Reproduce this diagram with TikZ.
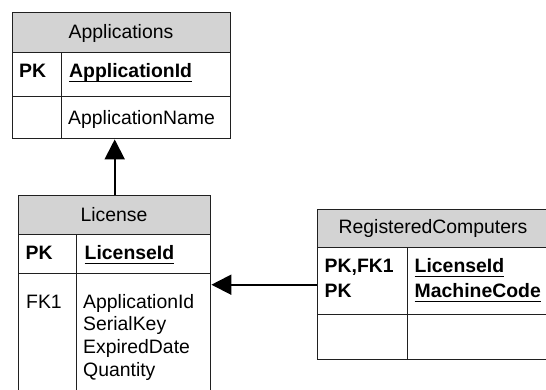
\documentclass[tikz,border=0pt]{standalone}
\usepackage{fontspec}
\setmainfont{Liberation Sans}
\usetikzlibrary{arrows.meta}
\definecolor{hdrgray}{HTML}{D3D3D3}
\definecolor{edge}{HTML}{202020}
\newlength\keyw
% bold key field with a flat underline just under the baseline
\newcommand\keyfield[1]{\settowidth\keyw{\textbf{#1}}\textbf{#1}\hspace{-\keyw}\rule[-5.3pt]{\keyw}{1.6pt}}
\begin{document}
\begin{tikzpicture}[x=1pt,y=-1pt,
  cell/.style={draw=edge, line width=1.4pt, anchor=north west, inner sep=0pt},
  head/.style={cell, fill=hdrgray},
  txt/.style={inner sep=0pt, anchor=base west, font=\fontsize{19.4}{22}\selectfont},
  ctxt/.style={txt, anchor=base},
  conn/.style={draw=black, line width=2pt, -{Triangle[length=20pt,width=20pt]}}]
\clip (0,0) rectangle (546,389);

% ---- Applications ----
\node[head, minimum width=218pt, minimum height=40pt] (appH) at (12,12) {};
\node[cell, minimum width=49pt, minimum height=44pt] (appPKk) at (12,52) {};
\node[cell, minimum width=169pt, minimum height=44pt] (appPKf) at (61,52) {};
\node[cell, minimum width=49pt, minimum height=42pt] (appAk) at (12,96) {};
\node[cell, minimum width=169pt, minimum height=42pt] (appAf) at (61,96) {};
\node[ctxt] (appT) at (121,38.5) {Applications};
\node[txt] (appK1) at (19,77) {\textbf{PK}};
\node[txt] (appF1) at (69,77) {\keyfield{ApplicationId}};
\node[txt] (appF2) at (68,124) {ApplicationName};

% ---- License ----
\node[head, minimum width=192pt, minimum height=39pt] (licH) at (18,195) {};
\node[cell, minimum width=58pt, minimum height=39pt] (licPKk) at (18,234) {};
\node[cell, minimum width=134pt, minimum height=39pt] (licPKf) at (76,234) {};
\node[cell, minimum width=58pt, minimum height=140pt] (licAk) at (18,273) {};
\node[cell, minimum width=134pt, minimum height=140pt] (licAf) at (76,273) {};
\node[ctxt] (licT) at (114,221) {License};
\node[txt] (licK1) at (25.5,259) {\textbf{PK}};
\node[txt] (licF1) at (84.5,259) {\keyfield{LicenseId}};
\node[txt] (licK2) at (26,308) {FK1};
\node[txt] (licF2) at (83,308) {ApplicationId};
\node[txt] (licF3) at (83,330.8) {SerialKey};
\node[txt] (licF4) at (83,353.6) {ExpiredDate};
\node[txt] (licF5) at (83,376.4) {Quantity};

% ---- RegisteredComputers ----
\node[head, minimum width=232pt, minimum height=38pt] (rcH) at (317,209) {};
\node[cell, minimum width=90pt, minimum height=67pt] (rcPKk) at (317,247) {};
\node[cell, minimum width=142pt, minimum height=67pt] (rcPKf) at (407,247) {};
\node[cell, minimum width=90pt, minimum height=45pt] (rcAk) at (317,314) {};
\node[cell, minimum width=142pt, minimum height=45pt] (rcAf) at (407,314) {};
\node[ctxt] (rcT) at (433,233) {RegisteredComputers};
\node[txt] (rcK1) at (324.5,272) {\textbf{PK,FK1}};
\node[txt] (rcK2) at (324.5,297) {\textbf{PK}};
\node[txt] (rcF1) at (414.5,272) {\keyfield{LicenseId}};
\node[txt] (rcF2) at (414.5,297) {\keyfield{MachineCode}};

% ---- relationships ----
\draw[conn] (licH.north) -- (licH.north |- appAf.south);
\coordinate (rcIn) at ([yshift=-3.5pt]rcPKk.west);
\draw[conn] (rcIn) -- (rcIn -| licAf.east);
\end{tikzpicture}
\end{document}
